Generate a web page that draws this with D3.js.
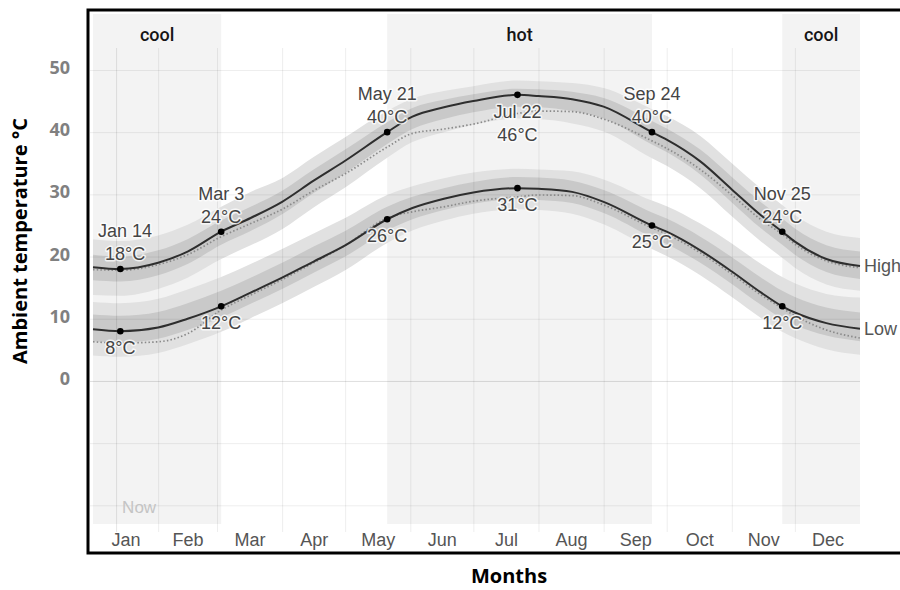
<!DOCTYPE html>
<html>
<head>
<meta charset="utf-8">
<script src="https://cdn.jsdelivr.net/npm/d3@7"></script>
<style>
  html, body { margin: 0; padding: 0; background: #fff; }
  svg { display: block; }
</style>
</head>
<body>
<svg id="chart" width="900" height="590"></svg>
<script>
// Day-of-year sample points (0 = Jan 1)
const knotDays = [0, 13, 31, 45, 61, 75, 90, 105, 120, 140, 152, 167, 181, 202, 212, 228, 243, 266, 273, 289, 304, 318, 328, 334, 349, 365];

// Average daily high (°C) with 10th / 25th / 75th / 90th percentile bands
const highAvg = [18.3, 18.0, 19.0, 20.8, 24.0, 26.2, 28.8, 32.2, 35.4, 40.0, 42.5, 44.0, 45.0, 46.0, 45.8, 45.3, 44.1, 40.0, 38.8, 35.3, 30.8, 26.6, 24.0, 22.4, 19.6, 18.5];
const highP10 = [13.8, 13.7, 14.8, 16.6, 19.6, 21.8, 24.4, 27.9, 31.1, 35.9, 38.4, 40.0, 41.2, 42.2, 42.1, 41.4, 40.1, 35.8, 34.6, 31.0, 26.5, 22.4, 19.8, 18.2, 15.5, 14.5];
const highP25 = [16.2, 16.0, 17.0, 18.8, 21.9, 24.1, 26.8, 30.2, 33.4, 38.1, 40.5, 42.1, 43.2, 44.1, 44.0, 43.4, 42.2, 38.0, 36.8, 33.2, 28.7, 24.5, 21.9, 20.3, 17.5, 16.4];
const highP75 = [20.3, 20.0, 21.0, 22.8, 25.8, 28.0, 30.6, 34.0, 37.2, 41.6, 43.9, 45.2, 46.1, 47.0, 46.9, 46.5, 45.5, 41.8, 40.6, 37.2, 32.8, 28.7, 26.1, 24.5, 21.8, 20.8];
const highP90 = [22.8, 22.5, 23.4, 25.1, 28.0, 30.4, 32.6, 36.0, 39.2, 43.4, 45.4, 46.6, 47.4, 48.3, 48.2, 47.9, 47.1, 43.7, 42.6, 39.4, 35.0, 30.9, 28.3, 26.7, 24.0, 23.0];
// Previous-year high (dotted)
const highPrev = [17.9, 17.8, 18.7, 20.3, 23.2, 25.3, 27.6, 30.6, 33.3, 37.6, 39.8, 40.5, 41.3, 43.0, 43.4, 43.3, 42.1, 38.6, 37.4, 34.0, 29.9, 25.9, 23.6, 22.0, 19.3, 18.2];

// Average daily low (°C) with percentile bands
const lowAvg = [8.3, 8.0, 8.6, 10.0, 12.0, 14.2, 16.6, 19.2, 21.8, 26.0, 27.8, 29.3, 30.3, 31.0, 30.9, 30.4, 28.8, 25.0, 24.0, 21.0, 17.6, 14.2, 12.0, 11.0, 9.3, 8.4];
const lowP10 = [4.1, 3.9, 4.5, 5.9, 7.9, 10.1, 12.5, 15.1, 17.8, 22.2, 24.2, 25.8, 26.9, 27.6, 27.5, 26.9, 25.2, 21.2, 20.1, 17.0, 13.5, 10.1, 7.9, 6.9, 5.1, 4.2];
const lowP25 = [6.4, 6.2, 6.8, 8.2, 10.2, 12.4, 14.8, 17.4, 20.0, 24.2, 26.0, 27.5, 28.5, 29.2, 29.1, 28.6, 27.0, 23.1, 22.0, 19.0, 15.6, 12.2, 10.0, 9.0, 7.3, 6.4];
const lowP75 = [10.7, 10.5, 11.1, 12.5, 14.5, 16.6, 19.0, 21.6, 24.1, 28.0, 29.6, 31.0, 32.0, 32.8, 32.7, 32.2, 30.7, 27.1, 26.1, 23.2, 19.9, 16.6, 14.5, 13.5, 11.8, 11.0];
const lowP90 = [12.7, 12.5, 13.2, 14.7, 16.7, 18.8, 21.2, 23.7, 26.2, 29.9, 31.3, 32.6, 33.5, 34.1, 34.0, 33.7, 32.4, 29.0, 28.1, 25.3, 22.1, 18.8, 16.7, 15.7, 14.0, 13.4];
// Previous-year low (dotted)
const lowPrev = [6.3, 6.1, 6.3, 7.6, 11.4, 13.8, 16.3, 19.0, 21.8, 26.2, 27.2, 28.0, 28.9, 29.6, 29.9, 29.8, 28.3, 24.6, 23.6, 20.6, 17.2, 13.8, 11.7, 10.5, 8.2, 6.9];

// Season transitions
const markerDays = [13, 61, 140, 202, 266, 328];
const markerDates = ["Jan 14", "Mar 3", "May 21", "Jul 22", "Sep 24", "Nov 25"];
const markerHigh = [18, 24, 40, 46, 40, 24];
const markerLow = [8, 12, 26, 31, 25, 12];

// Seasons
const seasonNames = ["cool", "hot", "cool"];
const seasonStarts = [0, 140, 328];
const seasonEnds = [61, 266, 365];

// Months
const monthNames = ["Jan", "Feb", "Mar", "Apr", "May", "Jun", "Jul", "Aug", "Sep", "Oct", "Nov", "Dec"];
const monthStarts = [0, 31, 59, 90, 120, 151, 181, 212, 243, 273, 304, 334, 365];
const nowDay = 11;

const yTicks = [0, 10, 20, 30, 40, 50];
const yGrid = [-20, -10, 0, 10, 20, 30, 40, 50];

// ---- layout ----
const svg = d3.select("#chart");
const plot = { left: 93, right: 860, top: 14, bottom: 524 };

const x = d3.scaleLinear().domain([0, 365]).range([plot.left, plot.right]);
const y = d3.scaleLinear().domain([-23, 59]).range([plot.bottom, plot.top]);

const FONT = "'Liberation Sans', Arial, Helvetica, sans-serif";

// season background bands
const seasons = seasonNames.map((n, i) => ({ name: n, start: seasonStarts[i], end: seasonEnds[i] }));
svg.append("g").selectAll("rect").data(seasons).join("rect")
  .attr("x", d => x(d.start))
  .attr("y", plot.top)
  .attr("width", d => x(d.end) - x(d.start))
  .attr("height", plot.bottom - plot.top)
  .attr("fill", "#f3f3f3");

svg.append("g").selectAll("text").data(seasons).join("text")
  .attr("x", d => (x(d.start) + x(d.end)) / 2)
  .attr("y", 41)
  .attr("text-anchor", "middle")
  .attr("font-family", "Roboto, " + FONT)
  .attr("font-weight", 500)
  .attr("font-size", 18)
  .attr("fill", "#151515")
  .text(d => d.name);

// percentile bands
const series = knotDays.map((d, i) => ({
  day: d,
  hi: highAvg[i], hiPrev: highPrev[i],
  hi10: highP10[i], hi25: highP25[i], hi75: highP75[i], hi90: highP90[i],
  lo: lowAvg[i], loPrev: lowPrev[i],
  lo10: lowP10[i], lo25: lowP25[i], lo75: lowP75[i], lo90: lowP90[i]
}));

const curve = d3.curveMonotoneX;
const band = (a, b) => d3.area().curve(curve).x(d => x(d.day)).y0(d => y(d[a])).y1(d => y(d[b]));
const bands = svg.append("g");
bands.append("path").attr("d", band("hi10", "hi90")(series)).attr("fill", "#e1e1e1");
bands.append("path").attr("d", band("lo10", "lo90")(series)).attr("fill", "#e1e1e1");
bands.append("path").attr("d", band("hi25", "hi75")(series)).attr("fill", "#c9c9c9");
bands.append("path").attr("d", band("lo25", "lo75")(series)).attr("fill", "#c9c9c9");

// gridlines
const grid = svg.append("g");
grid.append("g")
  .attr("transform", `translate(90,0)`)
  .call(d3.axisLeft(y).tickValues(yGrid).tickSize(-(plot.right - 90)).tickFormat(""))
  .call(g => g.select(".domain").remove())
  .call(g => g.selectAll(".tick line")
    .attr("stroke", d => d === 0 ? "rgba(0,0,0,0.13)" : "rgba(0,0,0,0.07)")
    .attr("stroke-width", 1));

grid.append("g")
  .attr("transform", `translate(0,532)`)
  .call(d3.axisBottom(x).tickValues(monthStarts.slice(1, 12).concat([nowDay])).tickSize(-(532 - 48)).tickFormat(""))
  .call(g => g.select(".domain").remove())
  .call(g => g.selectAll(".tick line")
    .attr("stroke", d => d === nowDay ? "rgba(0,0,0,0.10)" : "rgba(0,0,0,0.07)")
    .attr("stroke-width", 1));

svg.append("text")
  .attr("x", x(nowDay) + 6)
  .attr("y", 513)
  .attr("font-family", FONT)
  .attr("font-size", 17)
  .attr("fill", "#c4c4c4")
  .text("Now");

// previous-year dotted lines, then the average lines
const line = key => d3.line().curve(curve).x(d => x(d.day)).y(d => y(d[key]));
const lines = svg.append("g").attr("fill", "none");
["hiPrev", "loPrev"].forEach(k => {
  lines.append("path").attr("d", line(k)(series))
    .attr("stroke", "#8a8a8a").attr("stroke-width", 1.7)
    .attr("stroke-dasharray", "1.5,2.2");
});
["hi", "lo"].forEach(k => {
  lines.append("path").attr("d", line(k)(series))
    .attr("stroke", "#2e2e2e").attr("stroke-width", 2);
});

// transition markers and labels
const markers = markerDays.map((d, i) => ({ day: d, date: markerDates[i], hi: markerHigh[i], lo: markerLow[i] }));
const mg = svg.append("g");
mg.selectAll("circle.hi").data(markers).join("circle")
  .attr("cx", d => x(d.day)).attr("cy", d => y(d.hi)).attr("r", 3.3).attr("fill", "#000");
mg.selectAll("circle.lo").data(markers).join("circle")
  .attr("cx", d => x(d.day)).attr("cy", d => y(d.lo)).attr("r", 3.3).attr("fill", "#000");

function halo(sel) {
  sel.attr("font-family", FONT)
    .attr("font-size", 18)
    .attr("fill", "#444")
    .attr("text-anchor", "middle")
    .attr("stroke", "#fff")
    .attr("stroke-opacity", 0.75)
    .attr("stroke-width", 3)
    .attr("stroke-linejoin", "round")
    .attr("paint-order", "stroke");
  return sel;
}

const labelG = svg.append("g");
markers.forEach(m => {
  const cx = x(m.day);
  const hy = y(m.hi);
  const below = hy - 40 < 60;
  const g = labelG.append("g");
  const t1 = halo(g.append("text")).text(m.date)
    .attr("y", below ? hy + 23 : hy - 32);
  const t2 = halo(g.append("text")).text(`${m.hi}°C`)
    .attr("y", below ? hy + 46 : hy - 9);
  const w = Math.max(t1.node().getComputedTextLength(), t2.node().getComputedTextLength());
  const lx = Math.max(cx, plot.left + 5 + w / 2);
  t1.attr("x", lx); t2.attr("x", lx);

  const ly = y(m.lo);
  const t3 = halo(labelG.append("text")).text(`${m.lo}°C`).attr("y", ly + 23);
  const w3 = t3.node().getComputedTextLength();
  t3.attr("x", Math.max(cx, plot.left + 5 + w3 / 2));
});

// series names at the right end
const last = series[series.length - 1];
[["High", last.hi], ["Low", last.lo]].forEach(([name, v]) => {
  svg.append("text")
    .attr("x", plot.right + 4)
    .attr("y", y(v))
    .attr("dy", "0.35em")
    .attr("font-family", FONT)
    .attr("font-size", 18)
    .attr("fill", "#555")
    .text(name);
});

// month axis
const monthMids = monthNames.map((m, i) => (monthStarts[i] + monthStarts[i + 1]) / 2);
svg.append("g")
  .attr("transform", "translate(0,530)")
  .call(d3.axisBottom(x).tickValues(monthMids).tickSize(0).tickPadding(3)
    .tickFormat((d, i) => monthNames[i]))
  .call(g => g.select(".domain").remove())
  .call(g => g.selectAll("text")
    .attr("font-family", FONT).attr("font-size", 18).attr("fill", "#555"));

// temperature axis
svg.append("g")
  .attr("transform", "translate(78,0)")
  .call(d3.axisLeft(y).tickValues(yTicks).tickSize(0).tickPadding(8))
  .call(g => g.select(".domain").remove())
  .call(g => g.selectAll("text")
    .attr("dy", "0.2em")
    .attr("font-family", "'Open Sans', " + FONT)
    .attr("font-weight", 700)
    .attr("font-size", 18)
    .attr("fill", "#808080"));

// axis titles
svg.append("text")
  .attr("transform", "translate(27,241) rotate(-90)")
  .attr("text-anchor", "middle")
  .attr("font-family", "'Open Sans', " + FONT)
  .attr("font-weight", 700)
  .attr("font-size", 20)
  .attr("fill", "#000")
  .text("Ambient temperature °C");

svg.append("text")
  .attr("x", 509)
  .attr("y", 583)
  .attr("text-anchor", "middle")
  .attr("font-family", "'Open Sans', " + FONT)
  .attr("font-weight", 700)
  .attr("font-size", 20)
  .attr("fill", "#000")
  .text("Months");

// outer frame
svg.append("rect")
  .attr("x", 88).attr("y", 10)
  .attr("width", 830).attr("height", 543)
  .attr("fill", "none")
  .attr("stroke", "#000")
  .attr("stroke-width", 3);
</script>
</body>
</html>
